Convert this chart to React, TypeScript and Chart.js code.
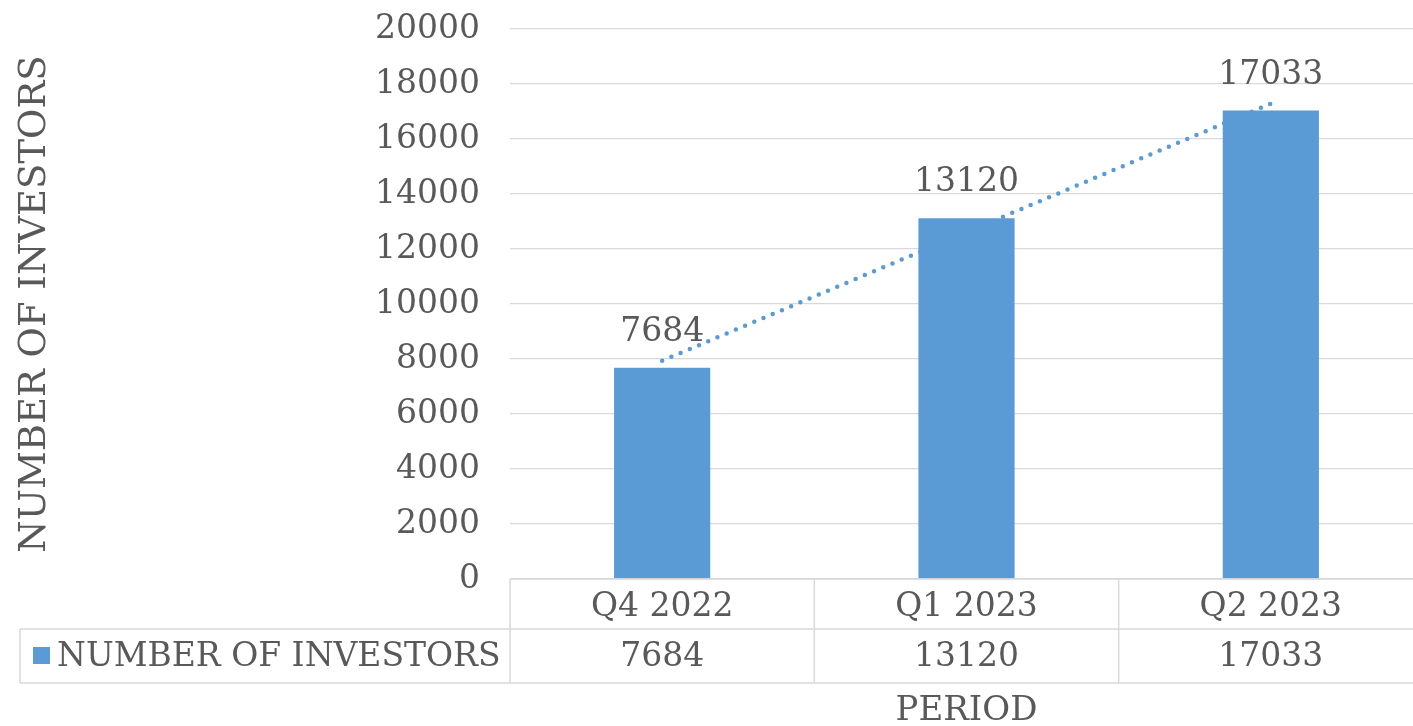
import React, { useEffect, useRef } from "react";
import { Chart, registerables } from "chart.js";

Chart.register(...registerables);

const categories: string[] = ["Q4 2022", "Q1 2023", "Q2 2023"];
const investors: number[] = [7684, 13120, 17033];
const seriesName = "NUMBER OF INVESTORS";
const yAxisTitle = "NUMBER OF INVESTORS";
const xAxisTitle = "PERIOD";
const yMin = 0;
const yMax = 20000;
const yStep = 2000;

const BAR_COLOR = "#5b9bd5";
const TEXT_COLOR = "#595959";
const LINE_COLOR = "#d9d9d9";
const FONT = "'DejaVu Serif', serif";

// least-squares linear trendline through the series (Excel-style trendline)
function linearTrend(values: number[]): number[] {
  const n = values.length;
  const xs = values.map((_, i) => i + 1);
  const mx = xs.reduce((a, b) => a + b, 0) / n;
  const my = values.reduce((a, b) => a + b, 0) / n;
  let num = 0;
  let den = 0;
  for (let i = 0; i < n; i++) {
    num += (xs[i] - mx) * (values[i] - my);
    den += (xs[i] - mx) * (xs[i] - mx);
  }
  const slope = num / den;
  return xs.map((x) => my + slope * (x - mx));
}

const CANVAS_W = 1423;
const CANVAS_H = 726;

const tablePlugin = {
  id: "excelTable",
  afterDraw(chart: any) {
    const { ctx, chartArea, scales } = chart;
    const xs = scales.x;
    const left = chartArea.left;
    const right = chartArea.right;
    const top = chartArea.bottom; // 0 line
    const catW = (right - left) / categories.length;
    const row1Bottom = top + 50;
    const row2Bottom = top + 104;
    const legendLeft = 20;

    ctx.save();
    // data labels
    const meta = chart.getDatasetMeta(0);
    ctx.fillStyle = TEXT_COLOR;
    ctx.font = `33px ${FONT}`;
    ctx.textAlign = "center";
    ctx.textBaseline = "alphabetic";
    meta.data.forEach((el: any, i: number) => {
      ctx.fillText(String(investors[i]), el.x, el.y - 27);
    });

    // table lines
    ctx.strokeStyle = LINE_COLOR;
    ctx.lineWidth = 1.5;
    ctx.beginPath();
    ctx.moveTo(left, top);
    ctx.lineTo(right, top);
    ctx.moveTo(legendLeft, row1Bottom);
    ctx.lineTo(right, row1Bottom);
    ctx.moveTo(legendLeft, row2Bottom);
    ctx.lineTo(right, row2Bottom);
    ctx.moveTo(legendLeft, row1Bottom);
    ctx.lineTo(legendLeft, row2Bottom);
    for (let i = 0; i <= categories.length; i++) {
      const x = left + i * catW;
      ctx.moveTo(x, top);
      ctx.lineTo(x, row2Bottom);
    }
    ctx.stroke();

    // table text
    ctx.fillStyle = TEXT_COLOR;
    ctx.font = `33px ${FONT}`;
    ctx.textAlign = "center";
    categories.forEach((c, i) => {
      const cx = xs.getPixelForValue(i);
      ctx.fillText(c, cx, top + 37);
      ctx.fillText(String(investors[i]), cx, top + 87);
    });

    // legend key
    ctx.fillStyle = BAR_COLOR;
    ctx.fillRect(33, row1Bottom + 18, 17, 17);
    ctx.fillStyle = TEXT_COLOR;
    ctx.textAlign = "left";
    ctx.fillText(seriesName, 57, top + 87);

    // x title
    ctx.font = `34px ${FONT}`;
    ctx.textAlign = "center";
    ctx.fillText(xAxisTitle, (left + right) / 2, top + 141);

    // y title
    ctx.font = `37px ${FONT}`;
    ctx.translate(45, (chartArea.top + chartArea.bottom) / 2);
    ctx.rotate(-Math.PI / 2);
    ctx.textAlign = "center";
    ctx.fillText(yAxisTitle, 0, 0);
    ctx.restore();
  },
};

export default function App() {
  const ref = useRef<HTMLCanvasElement | null>(null);

  useEffect(() => {
    document.body.style.margin = "0";
    document.body.style.overflow = "hidden";
    if (!ref.current) return;
    const trend = linearTrend(investors);
    const chart = new Chart(ref.current, {
      type: "bar",
      data: {
        labels: categories,
        datasets: [
          {
            type: "bar",
            label: seriesName,
            data: investors,
            backgroundColor: BAR_COLOR,
            borderWidth: 0,
            barPercentage: 0.316,
            categoryPercentage: 1,
            order: 2,
          } as any,
          {
            type: "line",
            label: "Linear trend",
            data: trend,
            borderColor: BAR_COLOR,
            borderWidth: 4.5,
            borderDash: [0, 10],
            borderCapStyle: "round",
            pointRadius: 0,
            fill: false,
            tension: 0,
            order: 1,
          } as any,
        ],
      },
      options: {
        responsive: false,
        animation: false,
        events: [],
        layout: { padding: { top: 29, bottom: CANVAS_H - 579, left: 0, right: 0 } },
        plugins: {
          legend: { display: false },
          tooltip: { enabled: false },
        },
        scales: {
          x: {
            display: false,
            offset: true,
            grid: { display: false },
          },
          y: {
            min: yMin,
            max: yMax,
            afterFit: (scale: any) => {
              scale.width = 510;
              scale.paddingTop = 0;
              scale.paddingBottom = 0;
            },
            border: { display: false },
            grid: {
              color: LINE_COLOR,
              lineWidth: 1.3,
              drawTicks: false,
            },
            ticks: {
              stepSize: yStep,
              color: TEXT_COLOR,
              font: { family: "DejaVu Serif", size: 33 },
              padding: 30,
              callback: (v: any) => String(v),
            },
          },
        },
      },
      plugins: [tablePlugin],
    });
    return () => chart.destroy();
  }, []);

  return (
    <div style={{ width: 1413, height: CANVAS_H, overflow: "hidden", position: "relative" }}>
      <canvas
        ref={ref}
        width={CANVAS_W}
        height={CANVAS_H}
        style={{ width: CANVAS_W, height: CANVAS_H, display: "block" }}
      />
    </div>
  );
}
